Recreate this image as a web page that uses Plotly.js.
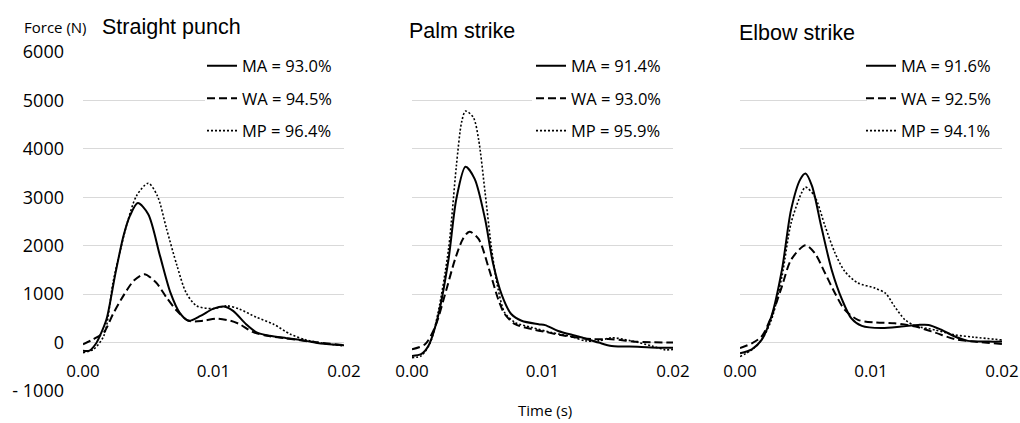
<!DOCTYPE html>
<html>
<head>
<meta charset="utf-8">
<script src="https://cdn.plot.ly/plotly-3.0.1.min.js"></script>
<style>
  html, body { margin: 0; padding: 0; background: #fff; }
  #chart { width: 1020px; height: 423px; }
</style>
</head>
<body>
<div id="chart"></div>
<script>
// ---------- Data (time in s, force in N) ----------
const panelTitles = ["Straight punch", "Palm strike", "Elbow strike"];
const seriesNames = ["MA", "WA", "MP"];
const legendPunch = ["MA = 93.0%", "WA = 94.5%", "MP = 96.4%"];
const legendPalm  = ["MA = 91.4%", "WA = 93.0%", "MP = 95.9%"];
const legendElbow = ["MA = 91.6%", "WA = 92.5%", "MP = 94.1%"];

const xTickVals = [0, 0.01, 0.02];
const xTickText = ["0.00", "0.01", "0.02"];
const yTickVals = [-1000, 0, 1000, 2000, 3000, 4000, 5000, 6000];
const yTickText = ["- 1000", "0", "1000", "2000", "3000", "4000", "5000", "6000"];

// Straight punch
const punchTimeMA = [0, 0.0005, 0.0010, 0.0013, 0.0018, 0.0025, 0.0031, 0.0036, 0.0042, 0.0050, 0.0059, 0.0067, 0.0074, 0.0081, 0.0090, 0.0100, 0.0108, 0.0115, 0.0125, 0.0133, 0.0143, 0.0156, 0.0171, 0.0182, 0.0200];
const punchMA     = [-170, -165, -20, 140, 480, 1450, 2200, 2620, 2880, 2650, 1790, 1030, 620, 450, 550, 700, 745, 655, 380, 210, 140, 90, 35, -20, -55];
const punchTimeWA = [0, 0.0008, 0.0016, 0.0023, 0.0031, 0.0039, 0.0047, 0.0056, 0.0064, 0.0072, 0.0081, 0.0092, 0.0102, 0.0113, 0.0120, 0.0130, 0.0141, 0.0156, 0.0176, 0.0200];
const punchWA     = [-35, 70, 210, 590, 970, 1280, 1410, 1240, 930, 655, 450, 450, 495, 450, 380, 220, 140, 85, 15, -55];
const punchTimeMP = [0, 0.0008, 0.0016, 0.0023, 0.0029, 0.0034, 0.0041, 0.0050, 0.0057, 0.0064, 0.0072, 0.0079, 0.0087, 0.0100, 0.0110, 0.0120, 0.0133, 0.0146, 0.0159, 0.0171, 0.0184, 0.0200];
const punchMP     = [-210, -140, 140, 1240, 1950, 2480, 3030, 3290, 3030, 2350, 1590, 1030, 760, 700, 760, 690, 520, 380, 170, 55, -15, -70];

// Palm strike
const palmTimeMA = [0, 0.0007, 0.00125, 0.0020, 0.0028, 0.0034, 0.0041, 0.0048, 0.0056, 0.0062, 0.0069, 0.0076, 0.0084, 0.0097, 0.0102, 0.0112, 0.01275, 0.0143, 0.0153, 0.0173, 0.0189, 0.0200];
const palmMA     = [-275, -240, -70, 550, 1720, 2970, 3630, 3380, 2550, 1650, 970, 590, 450, 380, 360, 240, 125, 0, -70, -85, -105, -105];
const palmTimeWA = [0, 0.0010, 0.0018, 0.0025, 0.0033, 0.0039, 0.0044, 0.0051, 0.0059, 0.0066, 0.0071, 0.0079, 0.0092, 0.0105, 0.0117, 0.0138, 0.0153, 0.0173, 0.0200];
const palmWA     = [-140, -35, 345, 965, 1720, 2140, 2290, 2140, 1520, 900, 590, 380, 275, 205, 140, 70, 70, 15, 0];
const palmTimeMP = [0, 0.0007, 0.0014, 0.0020, 0.0028, 0.0034, 0.0038, 0.0041, 0.0047, 0.0051, 0.0056, 0.0061, 0.0066, 0.0071, 0.0079, 0.0092, 0.0107, 0.0122, 0.0133, 0.0143, 0.0153, 0.0168, 0.0184, 0.0194, 0.0200];
const palmMP     = [-310, -275, 0, 620, 1930, 3650, 4550, 4780, 4650, 4200, 3100, 1930, 1100, 620, 415, 310, 205, 125, 35, 35, 100, 35, -70, -150, -140];

// Elbow strike
const elbowTimeMA = [0, 0.0009, 0.00165, 0.0024, 0.0032, 0.0039, 0.0046, 0.0050, 0.0055, 0.0062, 0.0070, 0.0078, 0.0085, 0.0093, 0.0108, 0.0123, 0.0136, 0.0144, 0.0154, 0.0164, 0.0174, 0.0190, 0.0200];
const elbowMA     = [-220, -140, 55, 540, 1500, 2745, 3370, 3490, 3230, 2400, 1500, 880, 500, 345, 300, 330, 365, 365, 260, 125, 35, 20, 20];
const elbowTimeWA = [0, 0.0009, 0.00165, 0.0024, 0.0032, 0.0039, 0.0050, 0.0057, 0.0065, 0.00725, 0.0080, 0.0090, 0.0103, 0.0118, 0.0134, 0.0149, 0.0164, 0.0179, 0.0200];
const elbowWA     = [-115, -15, 125, 540, 1160, 1710, 2010, 1850, 1430, 1020, 675, 470, 415, 400, 330, 205, 70, 20, -30];
const elbowTimeMP = [0, 0.0009, 0.00165, 0.0024, 0.0032, 0.0039, 0.0047, 0.0050, 0.0057, 0.0065, 0.00725, 0.0080, 0.0090, 0.0103, 0.0111, 0.0118, 0.0126, 0.0134, 0.0149, 0.0164, 0.0179, 0.0200];
const elbowMP     = [-290, -150, 55, 470, 1365, 2470, 3090, 3210, 3020, 2400, 1850, 1470, 1230, 1125, 1020, 745, 470, 345, 260, 160, 110, 55];

// ---------- Build ----------
const W = 1020, H = 423;
const FONT = "Open Sans, DejaVu Sans, sans-serif";
const lineStyles = [
  {color: "#000", width: 2, dash: "solid"},
  {color: "#000", width: 2, dash: "8px,4px"},
  {color: "#000", width: 1.6, dash: "2px,2px"}
];
const panels = [
  {times: [punchTimeMA, punchTimeWA, punchTimeMP], vals: [punchMA, punchWA, punchMP], legend: legendPunch},
  {times: [palmTimeMA, palmTimeWA, palmTimeMP], vals: [palmMA, palmWA, palmMP], legend: legendPalm},
  {times: [elbowTimeMA, elbowTimeWA, elbowTimeMP], vals: [elbowMA, elbowWA, elbowMP], legend: legendElbow}
];
const xDomainsPx = [[83, 344], [412, 673], [740, 1002]];
const legendXpx = [202, 531, 861];
const legendBoxLeftPx = [205, 532, 867];
const legendTopPx = 48.5;
const titleXpx = [99.5, 407, 737];
const titleYpx = [27, 31, 33];
const yTopPx = 52, yBotPx = 391, yZeroPx = 343.4;

const traces = [];
panels.forEach((p, i) => {
  const sfx = i === 0 ? "" : String(i + 1);
  for (let s = 0; s < 3; s++) {
    traces.push({
      type: "scatter", mode: "lines",
      x: p.times[s], y: p.vals[s],
      xaxis: "x" + sfx, yaxis: "y" + sfx,
      name: p.legend[s],
      legend: "legend" + sfx,
      legendgroup: "g" + i + "_" + s,
      line: Object.assign({shape: "spline", smoothing: 0.8}, lineStyles[s]),
      hoverinfo: "skip"
    });
  }
});

const layout = {
  width: W, height: H,
  margin: {l: 0, r: 0, t: 0, b: 0},
  paper_bgcolor: "#fff", plot_bgcolor: "#fff",
  font: {family: FONT, color: "#000"},
  showlegend: true,
  annotations: [],
  shapes: []
};

for (let i = 0; i < 3; i++) {
  const sfx = i === 0 ? "" : String(i + 1);
  layout["xaxis" + sfx] = {
    domain: [xDomainsPx[i][0] / W, xDomainsPx[i][1] / W],
    range: [0, 0.02],
    anchor: "free",
    position: (H - yZeroPx) / H,
    showgrid: false, zeroline: false, showline: false,
    ticks: "",
    tickvals: xTickVals, ticktext: xTickText,
    ticklabelstandoff: 16,
    tickfont: {family: FONT, size: 17, color: "#000"},
    fixedrange: true
  };
  layout["yaxis" + sfx] = {
    domain: [(H - yBotPx) / H, (H - yTopPx) / H],
    range: [-1000, 6000],
    anchor: "x" + sfx,
    showgrid: true, gridcolor: "#d9d9d9", gridwidth: 1,
    zeroline: false, showline: false,
    ticks: "",
    tickvals: yTickVals, ticktext: yTickText,
    showticklabels: i === 0,
    ticklabelstandoff: 18,
    tickfont: {family: FONT, size: 18, color: "#000"},
    fixedrange: true
  };
  layout["legend" + sfx] = {
    x: legendXpx[i] / W, y: (H - legendTopPx) / H,
    xanchor: "left", yanchor: "top",
    bgcolor: "rgba(0,0,0,0)", borderwidth: 0,
    font: {family: FONT, size: 16.5, color: "#000"},
    traceorder: "grouped",
    tracegroupgap: 8,
    itemclick: false, itemdoubleclick: false
  };
  // white legend box (masks the gridlines behind the legend, as in the original)
  layout.shapes.push({
    type: "rect", xref: "paper", yref: "paper", layer: "above",
    x0: legendBoxLeftPx[i] / W, x1: (xDomainsPx[i][1] + 1) / W,
    y0: (H - 146) / H, y1: (H - 48) / H,
    fillcolor: "#fff", line: {width: 0}
  });
  layout.annotations.push({
    xref: "paper", yref: "paper",
    x: titleXpx[i] / W, y: (H - titleYpx[i]) / H,
    xanchor: "left", yanchor: "middle",
    text: panelTitles[i], showarrow: false,
    font: {family: "Liberation Sans, Arial, sans-serif", size: 21.5, color: "#000"}
  });
}
layout.annotations.push({
  xref: "paper", yref: "paper", x: 22 / W, y: (H - 27) / H,
  xanchor: "left", yanchor: "middle", text: "Force (N)", showarrow: false,
  font: {family: FONT, size: 15, color: "#000"}
});
layout.annotations.push({
  xref: "paper", yref: "paper", x: 545 / W, y: (H - 410) / H,
  xanchor: "center", yanchor: "middle", text: "Time (s)", showarrow: false,
  font: {family: FONT, size: 15, color: "#000"}
});

Plotly.newPlot("chart", traces, layout, {staticPlot: true, displayModeBar: false});
</script>
</body>
</html>
